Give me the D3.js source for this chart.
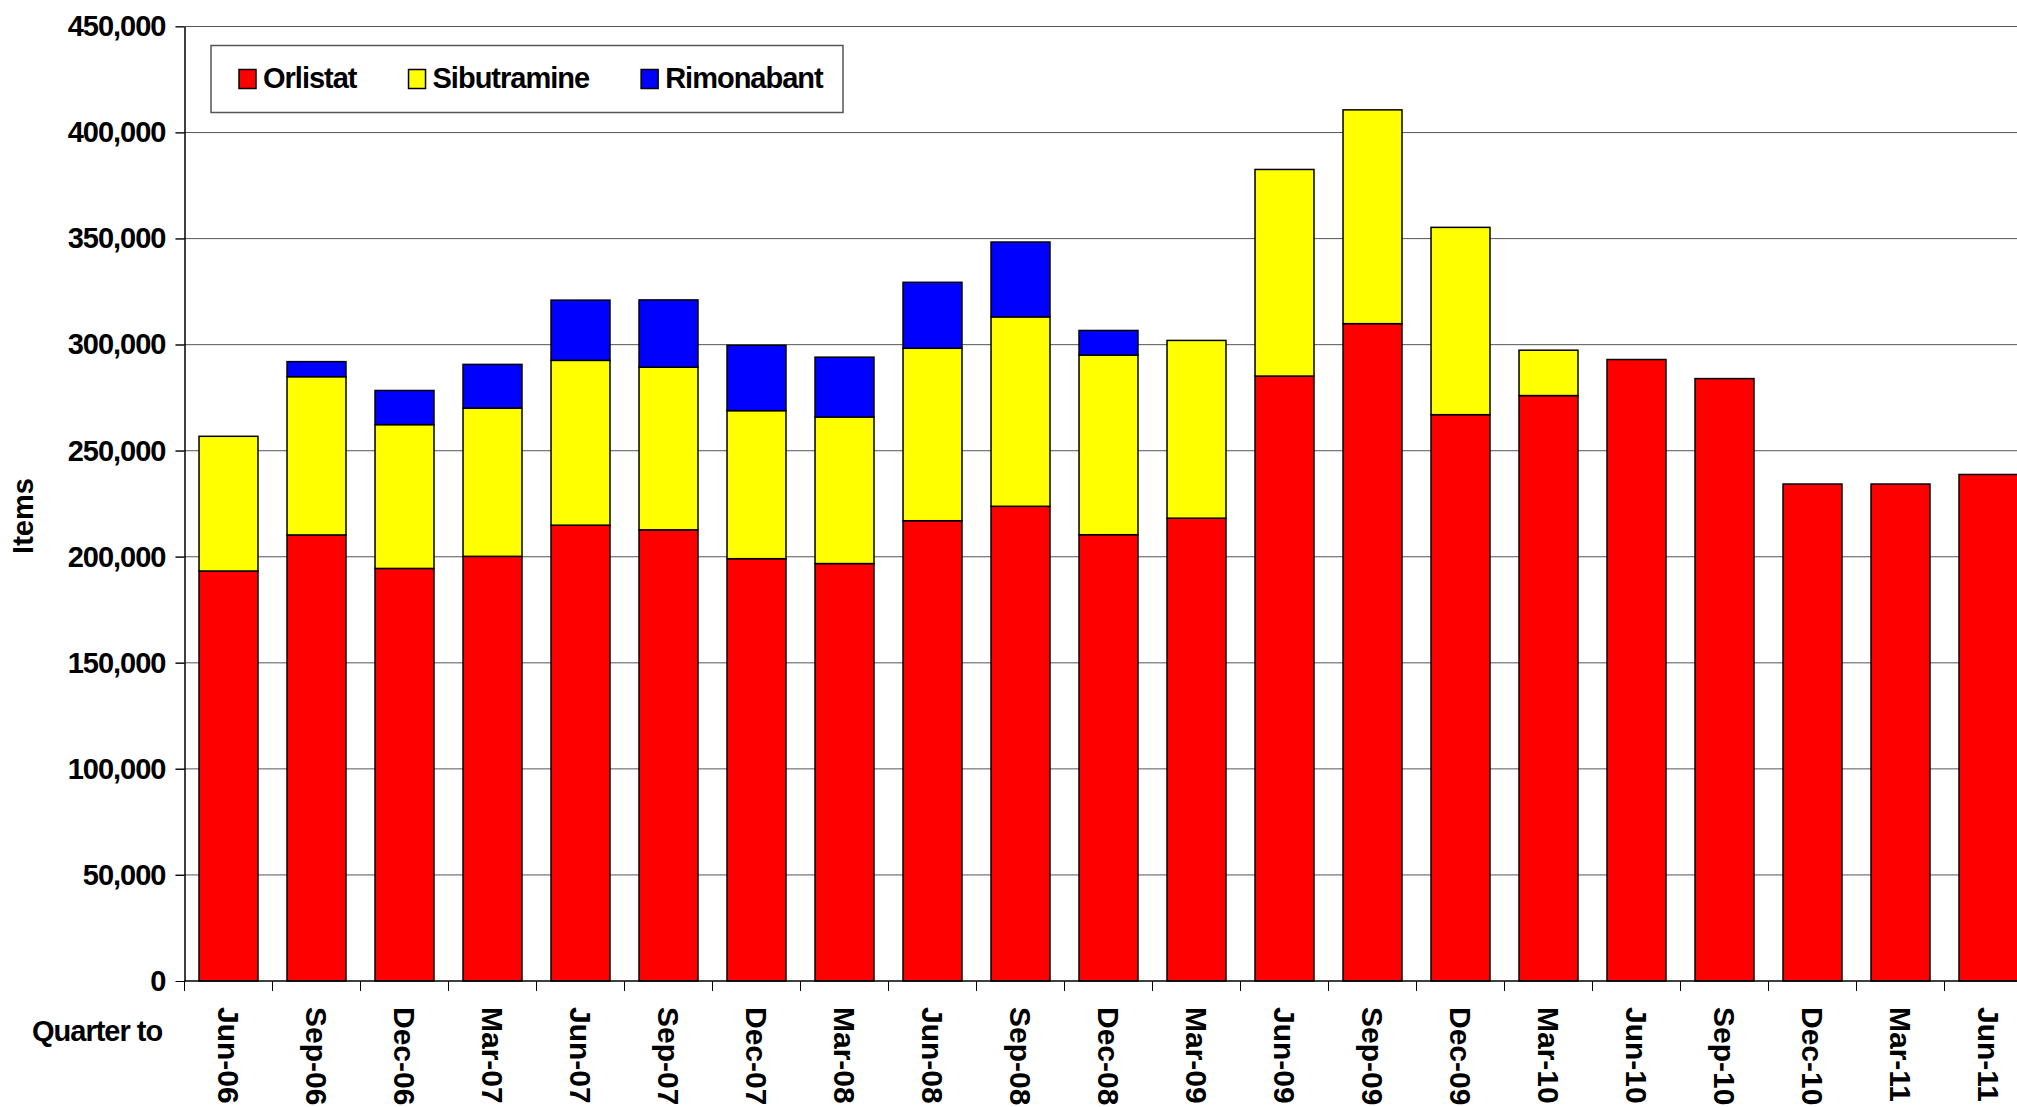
<!DOCTYPE html>
<html>
<head>
<meta charset="utf-8">
<script src="https://cdn.jsdelivr.net/npm/d3@7"></script>
<style>
  body { margin: 0; background: #fff; }
  text { font-family: "Liberation Sans", Arial, sans-serif; font-weight: bold; fill: #000; }
</style>
</head>
<body>
<script>
'use strict';

// quarters (x categories)
let quarters = ['Jun-06','Sep-06','Dec-06','Mar-07','Jun-07','Sep-07','Dec-07','Mar-08',
  'Jun-08','Sep-08','Dec-08','Mar-09','Jun-09','Sep-09','Dec-09','Mar-10',
  'Jun-10','Sep-10','Dec-10','Mar-11','Jun-11'];

// items per drug
let orlistat = [193300, 210300, 194500, 200200, 214900, 212700, 199100, 196800, 217000, 223800,
  210400, 218200, 285200, 309900, 267000, 276000, 293000, 284000, 234300, 234300, 238800];
let sibutramine = [63500, 74600, 67800, 69900, 77700, 76700, 69800, 69100, 81300, 89300,
  84700, 83800, 97400, 100800, 88300, 21400, 0, 0, 0, 0, 0];
let rimonabant = [0, 7100, 16100, 20600, 28400, 31700, 30800, 28200, 31100, 35300,
  11600, 0, 0, 0, 0, 0, 0, 0, 0, 0, 0];

let seriesNames = ['Orlistat', 'Sibutramine', 'Rimonabant'];
let seriesColors = ['#ff0000', '#ffff00', '#0000ff'];
let yTicks = [0, 50000, 100000, 150000, 200000, 250000, 300000, 350000, 400000, 450000];

(function() {

  let width = 2017, height = 1107;
  let plotLeft = 184.5, plotTop = 26.5, plotBottom = 981;
  let step = 88;

  let svg = d3.select('body').append('svg')
    .attr('width', width)
    .attr('height', height);

  let rows = quarters.map((q, i) => ({
    quarter: q,
    Orlistat: orlistat[i],
    Sibutramine: sibutramine[i],
    Rimonabant: rimonabant[i]
  }));

  let xScale = d3.scaleBand()
    .domain(quarters)
    .range([plotLeft, plotLeft + step * quarters.length])
    .paddingInner(0.33)
    .paddingOuter(0.165);

  let yScale = d3.scaleLinear()
    .domain([0, 450000])
    .range([plotBottom, plotTop]);

  // gridlines
  svg.append('g')
    .selectAll('line')
    .data(yTicks.filter(t => t > 0))
    .enter()
    .append('line')
      .attr('x1', plotLeft - 9)
      .attr('x2', width)
      .attr('y1', d => yScale(d))
      .attr('y2', d => yScale(d))
      .attr('stroke', '#555')
      .attr('stroke-width', 1);

  // stacked bars
  let stacked = d3.stack().keys(seriesNames)(rows);

  stacked.forEach((layer, k) => {
    svg.append('g')
      .selectAll('rect')
      .data(layer.filter(d => d[1] - d[0] > 0))
      .enter()
      .append('rect')
        .attr('x', d => xScale(d.data.quarter))
        .attr('y', d => yScale(d[1]))
        .attr('width', xScale.bandwidth())
        .attr('height', d => yScale(d[0]) - yScale(d[1]))
        .attr('fill', seriesColors[k])
        .attr('stroke', '#000')
        .attr('stroke-width', 1.5);
  });

  // y axis
  let yAxis = d3.axisLeft(yScale)
    .tickValues(yTicks)
    .tickSize(9)
    .tickSizeOuter(0)
    .tickPadding(10)
    .tickFormat(d3.format(','));

  let yG = svg.append('g')
    .attr('transform', `translate(${plotLeft}, 0)`)
    .call(yAxis);
  yG.select('.domain').attr('stroke', '#000').attr('stroke-width', 1.5);
  yG.selectAll('.tick line').attr('stroke', '#000');
  yG.selectAll('.tick text')
    .style('font-size', '29px')
    .style('letter-spacing', '-1px')
    .style('font-family', '"Liberation Sans", Arial, sans-serif')
    .style('font-weight', 'bold')
    .attr('fill', '#000');

  // x axis: baseline and ticks on band edges
  svg.append('line')
    .attr('x1', plotLeft)
    .attr('x2', width)
    .attr('y1', plotBottom)
    .attr('y2', plotBottom)
    .attr('stroke', '#000')
    .attr('stroke-width', 1.5);

  let halfGap = xScale.step() * xScale.paddingInner() / 2;

  svg.append('g')
    .selectAll('line')
    .data(quarters)
    .enter()
    .append('line')
      .attr('x1', d => xScale(d) - halfGap)
      .attr('x2', d => xScale(d) - halfGap)
      .attr('y1', plotBottom)
      .attr('y2', plotBottom + 10)
      .attr('stroke', '#000')
      .attr('stroke-width', 1);

  svg.append('g')
    .selectAll('text')
    .data(quarters)
    .enter()
    .append('text')
      .attr('transform', d => `translate(${xScale(d) + xScale.bandwidth() / 2}, 1007)rotate(90)`)
      .attr('dy', '0.36em')
      .style('font-size', '30px')
      .text(d => d);

  // axis titles
  svg.append('text')
    .attr('x', 32)
    .attr('y', 1041)
    .style('font-size', '29px')
    .style('letter-spacing', '-1px')
    .text('Quarter to');

  svg.append('text')
    .attr('transform', 'translate(33, 516)rotate(-90)')
    .attr('text-anchor', 'middle')
    .style('font-size', '29px')
    .text('Items');

  // legend
  svg.append('rect')
    .attr('x', 211)
    .attr('y', 45.5)
    .attr('width', 632)
    .attr('height', 67)
    .attr('fill', '#fff')
    .attr('stroke', '#555')
    .attr('stroke-width', 1.5);

  let legendX = 239;
  seriesNames.forEach((name, k) => {
    svg.append('rect')
      .attr('x', legendX)
      .attr('y', 69.5)
      .attr('width', 17)
      .attr('height', 19)
      .attr('fill', seriesColors[k])
      .attr('stroke', '#000')
      .attr('stroke-width', 1.5);

    let label = svg.append('text')
      .attr('x', legendX + 24)
      .attr('y', 87.5)
      .style('font-size', '29px')
      .style('letter-spacing', '-1px')
      .text(name);

    legendX = legendX + 24 + label.node().getComputedTextLength() + 52;
  });

})();
</script>
</body>
</html>
